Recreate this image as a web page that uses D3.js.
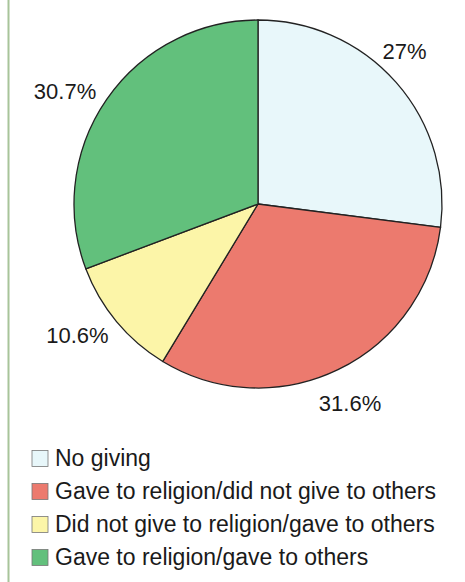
<!DOCTYPE html>
<html>
<head>
<meta charset="utf-8">
<script src="https://cdn.jsdelivr.net/npm/d3@7"></script>
<style>
  body { margin: 0; background: #fff; }
  svg text { font-family: "Liberation Sans", Arial, sans-serif; fill: #1a1a1a; }
</style>
</head>
<body>
<div id="chart"></div>
<script>
const categories = [
    'No giving',
    'Gave to religion/did not give to others',
    'Did not give to religion/gave to others',
    'Gave to religion/gave to others'
];
const values = [27, 31.6, 10.6, 30.7];
const labels = ['27%', '31.6%', '10.6%', '30.7%'];
const colors = ['#e8f7fa', '#ec7a6e', '#fcf5a8', '#62c07c'];

const dimensions = {
    width: 465,
    height: 582,
    cx: 258,
    cy: 204,
    radius: 184
}

const svg = d3.select('#chart')
    .append('svg')
    .attr('width', dimensions.width)
    .attr('height', dimensions.height)

// green frame line on the left
svg.append('line')
    .attr('x1', 8.5).attr('x2', 8.5)
    .attr('y1', 0).attr('y2', dimensions.height)
    .attr('stroke', '#a8c49a')
    .attr('stroke-width', 2)

const pie = d3.pie().sort(null).value(d => d)
const arcs = pie(values)

const arc = d3.arc().innerRadius(0).outerRadius(dimensions.radius)

const container = svg.append('g')
    .attr('transform', `translate(${dimensions.cx}, ${dimensions.cy})`)

container.selectAll('path')
    .data(arcs)
    .join('path')
    .attr('d', arc)
    .attr('fill', (d, i) => colors[i])
    .attr('stroke', '#222')
    .attr('stroke-width', 1.3)

// labels outside the pie
const labelArc = d3.arc().innerRadius(dimensions.radius + 30).outerRadius(dimensions.radius + 30)
const labelShift = [[-14, -11], [-1, 7], [-16, -5], [-17, 9]]

container.selectAll('text.pct')
    .data(arcs)
    .join('text')
    .attr('class', 'pct')
    .attr('x', (d, i) => labelArc.centroid(d)[0] + labelShift[i][0])
    .attr('y', (d, i) => labelArc.centroid(d)[1] + labelShift[i][1])
    .attr('text-anchor', 'middle')
    .attr('dominant-baseline', 'central')
    .attr('font-size', 22)
    .text((d, i) => labels[i])

// Legend
const legend = svg.append('g')
    .attr('transform', 'translate(32, 450)')

const row = legend.selectAll('g')
    .data(categories)
    .join('g')
    .attr('transform', (d, i) => `translate(0, ${i * 33})`)

row.append('rect')
    .attr('width', 16)
    .attr('height', 16)
    .attr('y', 0.5)
    .attr('fill', (d, i) => colors[i])
    .attr('stroke', '#777')
    .attr('stroke-width', 0.8)

row.append('text')
    .attr('x', 23)
    .attr('y', 16)
    .attr('font-size', 23)
    .text(d => d)
</script>
</body>
</html>
